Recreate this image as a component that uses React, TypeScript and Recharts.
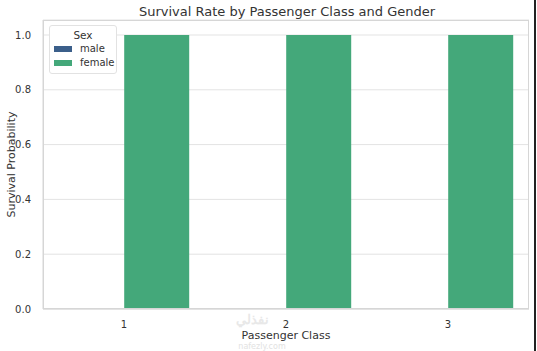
import React from "react";
import {
  BarChart,
  Bar,
  XAxis,
  YAxis,
  CartesianGrid,
} from "recharts";

const classes = ["1", "2", "3"];
const maleRate = [0, 0, 0];
const femaleRate = [1.0, 1.0, 1.0];
const yTicks = [0, 0.2, 0.4, 0.6, 0.8, 1.0];

const MALE = "#3b5f8a";
const FEMALE = "#44a87a";
const FONT = "'DejaVu Sans', sans-serif";
const SPINE = "#d6d6d6";

const data = classes.map((c, i) => ({
  pclass: c,
  male: maleRate[i],
  female: femaleRate[i],
}));

// plot box: x 43..529, y 20..309
const PLOT = { left: 43, top: 20, right: 529, bottom: 309 };

function SexLegend() {
  const items = [
    { name: "male", color: MALE },
    { name: "female", color: FEMALE },
  ];
  return (
    <div
      style={{
        position: "absolute",
        left: 49,
        top: 25,
        width: 68,
        boxSizing: "border-box",
        border: "1px solid #e2e2e2",
        borderRadius: 3,
        background: "#fff",
        padding: "2px 4px 3px 4px",
        fontFamily: FONT,
        fontSize: 10,
        color: "#333",
        lineHeight: "14px",
      }}
    >
      <div style={{ textAlign: "center", fontSize: 10.5 }}>Sex</div>
      {items.map((it) => (
        <div key={it.name} style={{ display: "flex", alignItems: "center", height: 14, whiteSpace: "nowrap" }}>
          <svg width={18} height={6} style={{ flexShrink: 0, marginRight: 8, display: "block" }}>
            <rect x={0} y={0} width={18} height={6} fill={it.color} />
          </svg>
          {it.name}
        </div>
      ))}
    </div>
  );
}

export default function App() {
  const yMid = (PLOT.top + PLOT.bottom) / 2;
  return (
    <div style={{ position: "fixed", left: 0, top: 0, width: 537, height: 351, background: "#fff" }}>
      <BarChart
        width={537}
        height={351}
        data={data}
        margin={{ top: PLOT.top, right: 537 - PLOT.right, left: 13, bottom: 12 }}
        barCategoryGap="10%"
        barGap={0}
      >
        <CartesianGrid vertical={false} stroke="#e3e3e3" />
        <XAxis
          dataKey="pclass"
          tick={{ fontSize: 10, fill: "#333", fontFamily: FONT }}
          tickLine={false}
          axisLine={{ stroke: SPINE }}
          tickMargin={6}
          height={30}
          label={{
            value: "Passenger Class",
            position: "insideBottom",
            offset: 0,
            style: { fontSize: 11, fill: "#333", fontFamily: FONT },
          }}
        />
        <YAxis
          domain={[0, 1.0547]}
          ticks={yTicks}
          tickFormatter={(v: number) => v.toFixed(1)}
          tick={{ fontSize: 10, fill: "#333", fontFamily: FONT }}
          tickLine={false}
          axisLine={{ stroke: SPINE }}
          width={30}
          tickMargin={6}
          allowDataOverflow
        />
        <Bar dataKey="male" name="male" fill={MALE} isAnimationActive={false} />
        <Bar dataKey="female" name="female" fill={FEMALE} isAnimationActive={false} />
        <text
          x={287}
          y={16}
          textAnchor="middle"
          fontSize={13}
          fill="#333"
          fontFamily={FONT}
        >
          Survival Rate by Passenger Class and Gender
        </text>
        <text
          x={15}
          y={yMid}
          textAnchor="middle"
          fontSize={11}
          fill="#333"
          fontFamily={FONT}
          transform={`rotate(-90 15 ${yMid})`}
        >
          Survival Probability
        </text>
        <text x={252} y={324} textAnchor="middle" fontSize={13} fill="#e8e8e8" fontFamily="'Noto Sans', sans-serif" fontWeight="bold">
          نفذلي
        </text>
        <text x={262} y={349} textAnchor="middle" fontSize={8} fill="#e2e2e2" fontFamily={FONT}>
          nafezly.com
        </text>
      </BarChart>
      {/* spines on all four sides, seaborn style */}
      <div
        style={{
          position: "absolute",
          left: PLOT.left,
          top: PLOT.top,
          width: PLOT.right - PLOT.left,
          height: PLOT.bottom - PLOT.top,
          border: `1px solid ${SPINE}`,
          boxSizing: "border-box",
          pointerEvents: "none",
        }}
      />
      <SexLegend />
      <div style={{ position: "absolute", right: 1, top: 0, width: 2, height: 351, background: "#222" }} />
    </div>
  );
}
